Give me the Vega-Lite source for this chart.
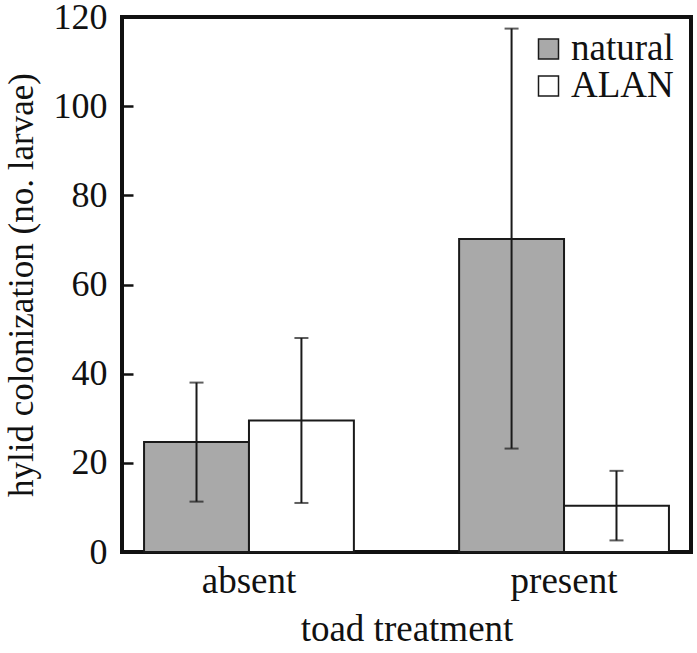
{
  "$schema": "https://vega.github.io/schema/vega-lite/v6.json",
  "width": 569,
  "height": 535,
  "autosize": "none",
  "padding": {"left": 122, "top": 17, "right": 6, "bottom": 101},
  "background": "white",
  "config": {
    "view": {"stroke": "#111", "strokeWidth": 4},
    "font": "Liberation Serif",
    "axis": {"grid": false, "domain": false, "labelFont": "Liberation Serif", "titleFont": "Liberation Serif", "labelColor": "#111", "titleColor": "#111", "titleFontWeight": "normal"},
    "legend": {"labelFont": "Liberation Serif"}
  },
  "data": {
    "values": [
      {"toad": "absent", "light": "natural", "mean": 24.7, "low": 11.3, "high": 38.0},
      {"toad": "absent", "light": "ALAN", "mean": 29.5, "low": 11.0, "high": 48.0},
      {"toad": "present", "light": "natural", "mean": 70.2, "low": 23.2, "high": 117.4},
      {"toad": "present", "light": "ALAN", "mean": 10.4, "low": 2.6, "high": 18.2}
    ]
  },
  "encoding": {
    "x": {
      "field": "toad", "type": "nominal", "sort": ["absent", "present"],
      "scale": {"paddingInner": 0.334, "paddingOuter": 0.07},
      "axis": {"title": "toad treatment", "labelAngle": 0, "ticks": false, "labelFontSize": 37, "titleFontSize": 37, "labelPadding": 11, "titlePadding": 12}
    },
    "xOffset": {"field": "light", "type": "nominal", "sort": ["natural", "ALAN"], "scale": {"paddingInner": 0, "paddingOuter": 0}}
  },
  "resolve": {"axis": {"y": "independent"}, "scale": {"y": "shared"}},
  "layer": [
    {
      "mark": {"type": "bar", "stroke": "#1a1a1a", "strokeWidth": 2},
      "encoding": {
        "y": {
          "field": "mean", "type": "quantitative",
          "scale": {"domain": [0, 120], "nice": false},
          "axis": {"orient": "left", "title": "hylid colonization (no. larvae)", "values": [0, 20, 40, 60, 80, 100, 120], "ticks": false, "labelFontSize": 36, "titleFontSize": 35, "labelPadding": 15, "titlePadding": 14}
        },
        "fill": {
          "field": "light", "type": "nominal",
          "scale": {"domain": ["natural", "ALAN"], "range": ["#a9a9a9", "#ffffff"]},
          "legend": {"title": null, "orient": "none", "legendX": 408, "legendY": 16, "symbolType": "square", "symbolSize": 400, "symbolStrokeColor": "#1a1a1a", "symbolStrokeWidth": 1.5, "labelFontSize": 37, "labelColor": "#111", "rowPadding": 0, "clipHeight": 32, "labelOffset": 4}
        }
      }
    },
    {
      "mark": {"type": "rule", "color": "#1a1a1a", "strokeWidth": 2},
      "encoding": {
        "y": {"field": "low", "type": "quantitative",
          "axis": {"orient": "right", "offset": -571, "title": null, "labels": false, "ticks": true, "tickSize": 13, "tickWidth": 2.5, "tickColor": "#111", "values": [20, 40, 60, 80, 100], "domain": false}},
        "y2": {"field": "high"}
      }
    },
    {
      "mark": {"type": "tick", "color": "#1a1a1a", "thickness": 2, "size": 14},
      "encoding": {"y": {"field": "low", "type": "quantitative", "axis": null}}
    },
    {
      "mark": {"type": "tick", "color": "#1a1a1a", "thickness": 2, "size": 14},
      "encoding": {"y": {"field": "high", "type": "quantitative", "axis": null}}
    }
  ]
}
